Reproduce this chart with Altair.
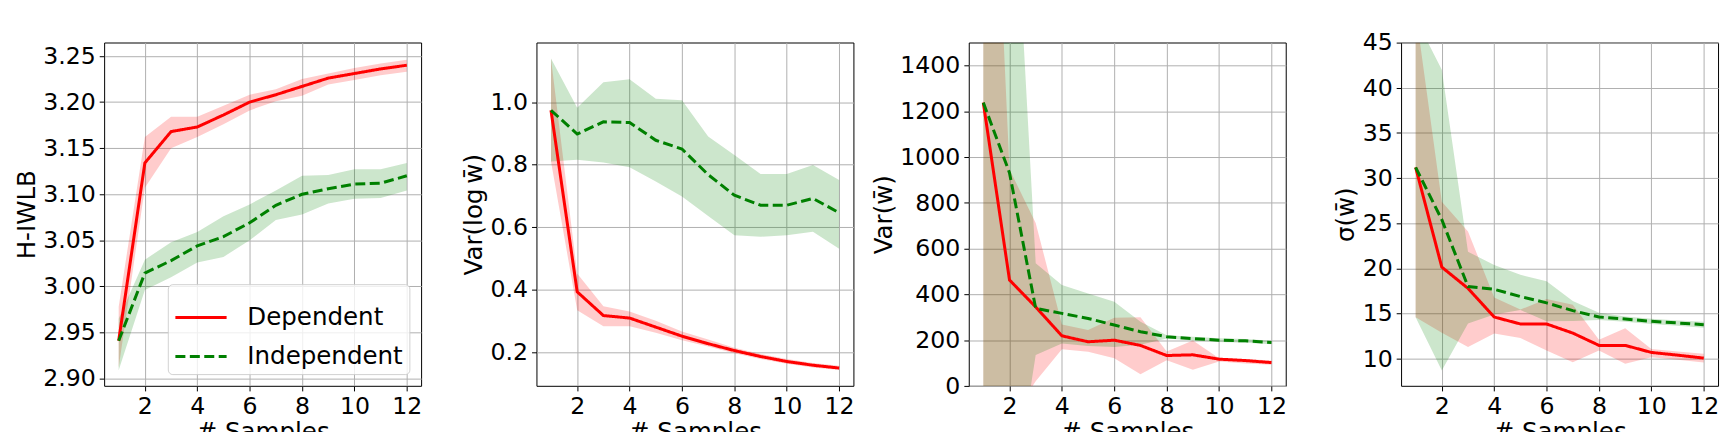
import altair as alt
import pandas as pd

x_samples = list(range(1, 13))
series_names = ["Dependent", "Independent"]
series_colors = ["#ff0000", "#008000"]

# Panel 1: H-IWLB
p1_dep_mean = [2.941, 3.134, 3.168, 3.173, 3.186, 3.200, 3.208, 3.217, 3.226, 3.231, 3.236, 3.240]
p1_dep_lo = [2.912, 3.107, 3.150, 3.162, 3.176, 3.191, 3.201, 3.207, 3.219, 3.224, 3.229, 3.233]
p1_dep_hi = [2.978, 3.162, 3.184, 3.184, 3.196, 3.208, 3.214, 3.225, 3.231, 3.237, 3.242, 3.246]
p1_ind_mean = [2.941, 3.0145, 3.028, 3.044, 3.054, 3.069, 3.088, 3.100, 3.106, 3.111, 3.112, 3.120]
p1_ind_lo = [2.909, 2.996, 3.010, 3.026, 3.032, 3.050, 3.072, 3.078, 3.090, 3.095, 3.096, 3.104]
p1_ind_hi = [2.965, 3.029, 3.048, 3.059, 3.076, 3.089, 3.104, 3.120, 3.121, 3.127, 3.127, 3.134]

# Panel 2: Var(log w)
p2_dep_mean = [0.974, 0.393, 0.317, 0.309, 0.280, 0.251, 0.227, 0.205, 0.186, 0.170, 0.158, 0.149]
p2_dep_lo = [0.81, 0.334, 0.283, 0.283, 0.262, 0.238, 0.218, 0.196, 0.178, 0.163, 0.151, 0.143]
p2_dep_hi = [1.14, 0.452, 0.347, 0.330, 0.300, 0.266, 0.240, 0.214, 0.194, 0.178, 0.165, 0.156]
p2_ind_mean = [0.974, 0.898, 0.937, 0.935, 0.878, 0.850, 0.768, 0.702, 0.670, 0.670, 0.692, 0.646]
p2_ind_lo = [0.81, 0.816, 0.807, 0.792, 0.746, 0.698, 0.636, 0.574, 0.569, 0.574, 0.585, 0.531]
p2_ind_hi = [1.14, 0.982, 1.064, 1.073, 1.011, 1.006, 0.890, 0.831, 0.770, 0.770, 0.799, 0.751]

# Panel 3: Var(w)
p3_dep_mean = [1238, 463, 345, 219, 193, 200, 177, 133, 136, 117, 111, 102]
p3_dep_lo = [-2500, -150, 20, 160, 149, 121, 51, 112, 71, 107, 98, 93]
p3_dep_hi = [3464, 946, 712, 269, 244, 298, 300, 151, 199, 121, 118, 111]
p3_ind_mean = [1238, 931, 339, 317, 295, 266, 237, 215, 207, 200, 197, 190]
p3_ind_lo = [-2500, -600, 135, 185, 175, 170, 180, 207, 199, 192, 189, 182]
p3_ind_hi = [3000, 2632, 536, 441, 404, 368, 280, 222, 215, 208, 205, 198]

# Panel 4: sigma(w)
p4_dep_mean = [31.2, 20.15, 17.8, 14.63, 13.86, 13.86, 12.85, 11.49, 11.49, 10.71, 10.41, 10.08]
p4_dep_lo = [14.6, 12.9, 11.3, 12.8, 12.3, 10.93, 9.63, 10.93, 9.45, 10.19, 9.9, 9.6]
p4_dep_hi = [48.5, 27.4, 24.1, 16.8, 15.45, 16.63, 16.0, 12.1, 13.4, 11.08, 10.8, 10.56]
p4_ind_mean = [31.2, 25.4, 18.0, 17.7, 16.9, 16.2, 15.34, 14.63, 14.41, 14.15, 13.97, 13.78]
p4_ind_lo = [14.6, 8.7, 13.9, 14.9, 15.4, 14.15, 14.2, 14.3, 14.1, 13.85, 13.65, 13.45]
p4_ind_hi = [47.7, 42.0, 21.85, 20.4, 19.3, 18.6, 16.4, 15.1, 14.7, 14.45, 14.25, 14.1]

x_ticks = [2, 4, 6, 8, 10, 12]

FONT = "DejaVu Sans"
W, H = 349, 378


def make_df(dm, dl, dh, im, il, ih):
    rows = []
    for i, xv in enumerate(x_samples):
        rows.append({"x": xv, "series": "Dependent", "mean": dm[i], "lo": dl[i], "hi": dh[i]})
    for i, xv in enumerate(x_samples):
        rows.append({"x": xv, "series": "Independent", "mean": im[i], "lo": il[i], "hi": ih[i]})
    return pd.DataFrame(rows)


def panel(df, ydomain, yticks, yfmt, ytitle, show_legend):
    xscale = alt.Scale(domain=[0.45, 12.55], nice=False, zero=False)
    xaxis = alt.Axis(values=x_ticks, title="# Samples", format="d", labelFlush=False)
    yscale = alt.Scale(domain=ydomain, nice=False, zero=False)
    yaxis = alt.Axis(values=yticks, title=ytitle, format=yfmt)
    cscale = alt.Scale(domain=series_names, range=series_colors)
    dscale = alt.Scale(domain=series_names, range=[[1, 0], [11, 4.9]])
    if show_legend:
        leg = alt.Legend(
            title=None, orient="bottom-right", offset=13,
            symbolType="stroke", symbolSize=3180, symbolStrokeWidth=3.3,
            labelFontSize=27, labelFont=FONT, labelColor="black", labelLimit=400,
            padding=6.5, rowPadding=0, labelOffset=21,
            fillColor="rgba(255,255,255,0.8)", strokeColor="#cccccc", cornerRadius=5,
        )
    else:
        leg = None
    base = alt.Chart(df)
    layers = []
    for name, col in zip(series_names, series_colors):
        layers.append(
            base.transform_filter(alt.datum.series == name)
            .mark_area(clip=True, color=col, fillOpacity=0.2)
            .encode(
                x=alt.X("x:Q", scale=xscale, axis=xaxis),
                y=alt.Y("lo:Q", scale=yscale, axis=yaxis),
                y2="hi:Q",
            )
        )
    line = base.mark_line(clip=True, strokeWidth=3.3).encode(
        x=alt.X("x:Q", scale=xscale, axis=xaxis),
        y=alt.Y("mean:Q", scale=yscale, axis=yaxis),
        stroke=alt.Stroke("series:N", scale=cscale, legend=leg),
        strokeDash=alt.StrokeDash("series:N", scale=dscale, legend=leg),
    )
    layers.append(line)
    return alt.layer(*layers).properties(width=W, height=H)


p1 = panel(make_df(p1_dep_mean, p1_dep_lo, p1_dep_hi, p1_ind_mean, p1_ind_lo, p1_ind_hi),
           [2.892, 3.2645], [2.90, 2.95, 3.00, 3.05, 3.10, 3.15, 3.20, 3.25], ".2f", "H-IWLB", True)
p2 = panel(make_df(p2_dep_mean, p2_dep_lo, p2_dep_hi, p2_ind_mean, p2_ind_lo, p2_ind_hi),
           [0.0917, 1.1905], [0.2, 0.4, 0.6, 0.8, 1.0], ".1f", "Var(log\u2009w\u0304)", False)
p3 = panel(make_df(p3_dep_mean, p3_dep_lo, p3_dep_hi, p3_ind_mean, p3_ind_lo, p3_ind_hi),
           [0, 1500], [0, 200, 400, 600, 800, 1000, 1200, 1400], "d", "Var(w\u0304)", False)
p4 = panel(make_df(p4_dep_mean, p4_dep_lo, p4_dep_hi, p4_ind_mean, p4_ind_lo, p4_ind_hi),
           [7.0, 45], [10, 15, 20, 25, 30, 35, 40, 45], "d", "\u03c3(w\u0304)", False)

chart = (
    alt.hconcat(p1, p2, p3, p4, spacing=127, bounds="flush")
    .resolve_scale(stroke="independent", strokeDash="independent")
    .resolve_legend(stroke="independent", strokeDash="independent")
    .properties(padding={"left": 6, "top": 1, "right": 0, "bottom": 0}, background="white")
    .configure_view(stroke="black", strokeWidth=1.1)
    .configure_axis(
        labelFont=FONT, titleFont=FONT, labelFontSize=26, titleFontSize=27,
        titleFontWeight="normal", labelColor="black", titleColor="black",
        tickColor="black", tickSize=5.5, tickWidth=1.1, gridColor="#b0b0b0", gridWidth=1.1,
        domain=False, labelPadding=4.4,
    )
    .configure_axisX(titlePadding=2)
    .configure_axisY(titlePadding=3.3)
)

chart.save("out.html", embed_options={"renderer": "svg", "actions": False})
